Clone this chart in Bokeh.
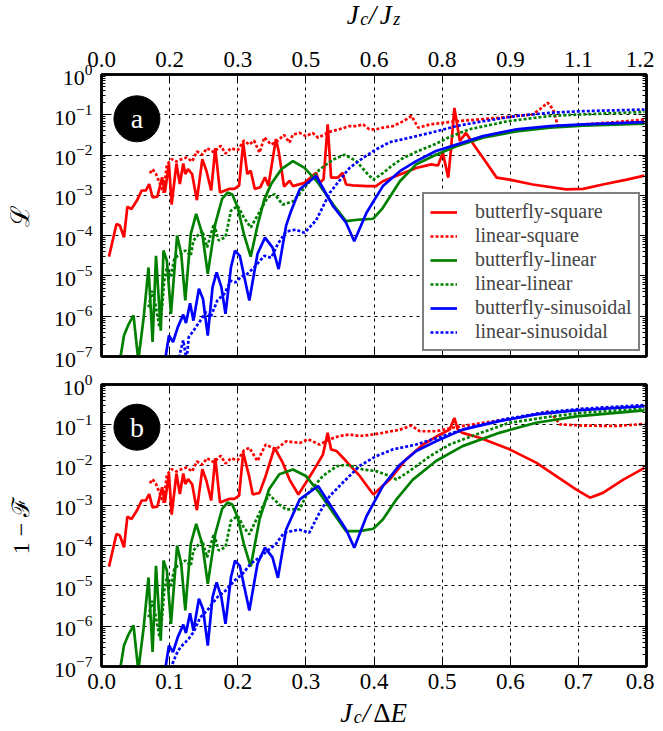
import math
from bokeh.plotting import figure
from bokeh.models import Range1d, LinearAxis, LogAxis, FixedTicker, Label, CustomJSTickFormatter
from bokeh.layouts import column
from bokeh.embed import file_html
from bokeh.resources import INLINE

# ---------------- data ----------------
x_ticks = [0.0, 0.1, 0.2, 0.3, 0.4, 0.5, 0.6, 0.7, 0.8]
x_tick_labels = ["0.0", "0.1", "0.2", "0.3", "0.4", "0.5", "0.6", "0.7", "0.8"]
top_tick_labels = ["0.0", "0.2", "0.3", "0.5", "0.6", "0.8", "0.9", "1.1", "1.2"]
y_tick_exponents = [-7, -6, -5, -4, -3, -2, -1, 0]

series_names = ["butterfly-square", "linear-square", "butterfly-linear",
                "linear-linear", "butterfly-sinusoidal", "linear-sinusoidal"]

# each entry: (J_c/ΔE, log10 of value)
butterfly_square_left = [
    (0.011, -4.52), (0.022, -3.71), (0.027, -3.75), (0.033, -4.04), (0.038, -3.28),
    (0.044, -3.34), (0.052, -3.13), (0.059, -2.88), (0.065, -2.88), (0.070, -2.72),
    (0.075, -3.05), (0.082, -3.03), (0.089, -2.55), (0.093, -2.93), (0.099, -2.22),
    (0.103, -3.23), (0.110, -2.21), (0.115, -2.72), (0.120, -2.21), (0.123, -2.47),
    (0.127, -2.35), (0.133, -2.47), (0.140, -3.12), (0.148, -2.10), (0.154, -2.39),
    (0.161, -2.88), (0.167, -1.83), (0.174, -2.93), (0.187, -2.84), (0.195, -2.84),
    (0.202, -2.76), (0.208, -1.69)]
butterfly_square_a_tail = [
    (0.214, -2.47), (0.219, -2.39), (0.225, -2.84), (0.233, -2.80), (0.240, -2.55),
    (0.245, -2.76), (0.256, -1.60), (0.260, -1.90), (0.268, -2.78), (0.276, -2.64),
    (0.281, -2.77), (0.298, -2.69), (0.315, -2.44), (0.320, -2.69), (0.326, -2.60),
    (0.332, -1.24), (0.337, -2.56), (0.347, -2.56), (0.354, -2.44), (0.359, -2.73),
    (0.369, -2.75), (0.389, -2.77), (0.403, -2.77), (0.413, -2.65), (0.438, -2.48),
    (0.462, -2.32), (0.484, -2.23), (0.494, -2.26), (0.501, -1.94), (0.509, -2.56),
    (0.513, -1.86), (0.518, -0.83), (0.526, -1.65), (0.535, -1.45), (0.548, -1.78),
    (0.565, -2.19), (0.580, -2.56), (0.599, -2.61), (0.633, -2.73), (0.682, -2.85),
    (0.707, -2.84), (0.736, -2.73), (0.771, -2.61), (0.797, -2.51)]
butterfly_square_b_tail = [
    (0.217, -2.30), (0.222, -2.73), (0.232, -2.69), (0.241, -2.27), (0.254, -1.57),
    (0.266, -1.94), (0.276, -2.36), (0.289, -2.73), (0.300, -2.44), (0.315, -2.03),
    (0.325, -1.74), (0.332, -1.20), (0.337, -1.61), (0.345, -1.65), (0.359, -1.90),
    (0.379, -2.27), (0.399, -2.73), (0.423, -2.36), (0.447, -1.86), (0.472, -1.49),
    (0.497, -1.24), (0.511, -1.12), (0.518, -0.83), (0.523, -1.12), (0.530, -1.20),
    (0.555, -1.32), (0.599, -1.61), (0.638, -1.94), (0.667, -2.27), (0.697, -2.61),
    (0.717, -2.81), (0.736, -2.69), (0.766, -2.36), (0.797, -2.07)]

linear_square_left = [
    (0.071, -2.45), (0.075, -2.35), (0.080, -2.47), (0.086, -2.72), (0.091, -2.93),
    (0.096, -2.24), (0.103, -2.10), (0.110, -2.16), (0.118, -2.10), (0.125, -2.06),
    (0.133, -2.16), (0.140, -1.91), (0.148, -1.99), (0.155, -1.83), (0.165, -1.93),
    (0.175, -1.77), (0.182, -1.96), (0.190, -1.83), (0.200, -1.88), (0.209, -1.64)]
linear_square_a_tail = [
    (0.217, -1.74), (0.224, -1.64), (0.232, -1.94), (0.239, -1.56), (0.249, -1.74),
    (0.259, -1.64), (0.268, -1.50), (0.276, -1.69), (0.281, -1.49), (0.291, -1.45),
    (0.300, -1.53), (0.310, -1.45), (0.318, -1.57), (0.327, -1.49), (0.337, -1.41),
    (0.349, -1.36), (0.364, -1.28), (0.374, -1.28), (0.384, -1.24), (0.393, -1.36),
    (0.403, -1.36), (0.413, -1.32), (0.428, -1.28), (0.443, -1.16), (0.455, -1.03),
    (0.465, -1.32), (0.482, -1.24), (0.501, -1.20), (0.521, -1.16), (0.550, -1.12),
    (0.580, -1.08), (0.609, -1.03), (0.633, -0.99), (0.643, -0.87), (0.655, -0.70),
    (0.663, -0.87), (0.670, -1.28), (0.682, -1.28), (0.707, -1.24), (0.756, -1.18),
    (0.797, -1.12)]
linear_square_b_tail = [
    (0.217, -1.57), (0.229, -1.90), (0.241, -1.49), (0.256, -1.61), (0.271, -1.41),
    (0.291, -1.45), (0.303, -1.36), (0.320, -1.49), (0.335, -1.36), (0.349, -1.28),
    (0.364, -1.24), (0.379, -1.28), (0.399, -1.24), (0.413, -1.20), (0.438, -1.12),
    (0.455, -1.02), (0.467, -1.16), (0.491, -1.16), (0.516, -1.07), (0.560, -0.95),
    (0.609, -0.83), (0.648, -0.70), (0.658, -0.66), (0.673, -0.99), (0.707, -1.02),
    (0.756, -1.03), (0.797, -0.98)]

butterfly_linear_left = [
    (0.025, -7.50), (0.028, -7.00), (0.033, -6.48), (0.039, -6.23), (0.047, -5.98),
    (0.054, -7.10), (0.062, -6.02), (0.069, -4.79), (0.075, -6.64), (0.080, -4.50),
    (0.087, -6.36), (0.091, -4.37), (0.096, -4.62), (0.102, -5.94), (0.111, -4.00),
    (0.117, -4.45), (0.123, -5.61), (0.131, -3.96), (0.139, -3.46), (0.148, -3.96),
    (0.156, -4.95), (0.167, -3.71), (0.177, -3.09), (0.185, -2.93), (0.192, -2.98),
    (0.200, -3.30), (0.209, -3.96), (0.219, -4.52)]
butterfly_linear_a_tail = [
    (0.229, -3.75), (0.239, -3.10), (0.249, -2.72), (0.264, -2.35), (0.281, -2.15),
    (0.298, -2.32), (0.318, -2.69), (0.340, -3.23), (0.359, -3.64), (0.379, -3.60),
    (0.399, -3.58), (0.413, -3.31), (0.438, -2.65), (0.462, -2.23), (0.491, -1.99),
    (0.521, -1.78), (0.560, -1.57), (0.609, -1.41), (0.658, -1.32), (0.707, -1.27),
    (0.797, -1.22)]
butterfly_linear_b_tail = [
    (0.232, -3.35), (0.246, -2.60), (0.261, -2.23), (0.281, -2.11), (0.300, -2.27),
    (0.320, -2.69), (0.340, -3.18), (0.359, -3.64), (0.379, -3.64), (0.399, -3.58),
    (0.413, -3.35), (0.433, -2.85), (0.457, -2.36), (0.491, -1.90), (0.530, -1.53),
    (0.584, -1.20), (0.638, -0.95), (0.697, -0.79), (0.797, -0.64)]

linear_linear_left = [
    (0.069, -5.78), (0.074, -5.37), (0.079, -5.69), (0.085, -6.27), (0.089, -5.78),
    (0.092, -5.12), (0.096, -4.79), (0.101, -5.03), (0.107, -4.58), (0.112, -4.50),
    (0.117, -4.45), (0.123, -4.37), (0.131, -4.50), (0.135, -4.12), (0.141, -4.00),
    (0.148, -3.88), (0.155, -4.29), (0.165, -3.71), (0.172, -4.12), (0.182, -4.04),
    (0.190, -3.38), (0.200, -3.26), (0.209, -3.55)]
linear_linear_a_tail = [
    (0.219, -3.80), (0.229, -3.50), (0.244, -3.05), (0.254, -2.97), (0.266, -3.23),
    (0.281, -3.15), (0.300, -2.77), (0.320, -2.36), (0.340, -2.11), (0.357, -1.99),
    (0.374, -2.15), (0.389, -2.44), (0.399, -2.61), (0.413, -2.45), (0.425, -2.28),
    (0.440, -2.10), (0.462, -1.92), (0.491, -1.72), (0.511, -1.55), (0.540, -1.36),
    (0.596, -1.16), (0.658, -1.03), (0.707, -0.99), (0.797, -0.93)]
linear_linear_b_tail = [
    (0.217, -3.72), (0.232, -3.18), (0.246, -2.73), (0.261, -2.98), (0.271, -3.10),
    (0.291, -3.10), (0.300, -2.77), (0.325, -2.27), (0.345, -2.03), (0.359, -1.99),
    (0.384, -2.11), (0.403, -2.15), (0.423, -2.27), (0.433, -2.36), (0.452, -2.15),
    (0.482, -1.78), (0.511, -1.49), (0.550, -1.24), (0.599, -0.95), (0.658, -0.80),
    (0.707, -0.70), (0.797, -0.60)]

butterfly_sinusoidal_left = [
    (0.092, -7.40), (0.094, -7.02), (0.099, -6.48), (0.105, -6.64), (0.112, -6.27),
    (0.120, -5.96), (0.124, -6.17), (0.130, -5.68), (0.135, -6.11), (0.143, -5.32),
    (0.149, -5.57), (0.156, -6.48), (0.163, -5.28), (0.169, -4.91), (0.176, -5.28),
    (0.182, -5.94), (0.190, -4.79), (0.196, -4.37), (0.203, -4.50), (0.217, -5.61),
    (0.229, -4.45), (0.240, -4.05), (0.251, -4.29)]
butterfly_sinusoidal_a_tail = [
    (0.260, -4.83), (0.271, -3.75), (0.278, -3.40), (0.291, -2.85), (0.315, -2.52),
    (0.340, -3.27), (0.359, -3.68), (0.371, -4.14), (0.389, -3.43), (0.413, -2.77),
    (0.438, -2.40), (0.462, -2.15), (0.491, -1.90), (0.521, -1.74), (0.560, -1.53),
    (0.609, -1.36), (0.658, -1.28), (0.707, -1.24), (0.797, -1.18)]
butterfly_sinusoidal_b_tail = [
    (0.259, -4.80), (0.271, -3.60), (0.291, -2.85), (0.318, -2.52), (0.340, -3.10),
    (0.359, -3.60), (0.371, -4.05), (0.389, -3.27), (0.413, -2.52), (0.438, -1.99),
    (0.462, -1.65), (0.491, -1.41), (0.530, -1.12), (0.584, -0.91), (0.638, -0.74),
    (0.697, -0.64), (0.797, -0.54)]

linear_sinusoidal_a = [
    (0.112, -7.40), (0.115, -6.93), (0.120, -6.60), (0.125, -7.10), (0.128, -6.52),
    (0.135, -6.36), (0.145, -6.11), (0.153, -5.90), (0.160, -6.03), (0.170, -5.61),
    (0.180, -5.45), (0.190, -5.12), (0.197, -5.16), (0.204, -5.03), (0.214, -4.95),
    (0.224, -4.79), (0.239, -4.50), (0.249, -4.55), (0.259, -4.20), (0.271, -3.90),
    (0.285, -3.85), (0.298, -3.93), (0.315, -3.62), (0.335, -2.94), (0.364, -2.32),
    (0.384, -2.07), (0.403, -1.86), (0.423, -1.68), (0.452, -1.57), (0.482, -1.45),
    (0.521, -1.28), (0.560, -1.16), (0.609, -1.03), (0.658, -0.95), (0.707, -0.91),
    (0.797, -0.87)]
linear_sinusoidal_b = [
    (0.100, -7.30), (0.103, -6.98), (0.110, -6.69), (0.116, -6.52), (0.123, -6.40),
    (0.128, -6.31), (0.135, -6.15), (0.145, -5.78), (0.155, -5.61), (0.170, -5.28),
    (0.182, -5.12), (0.195, -4.87), (0.207, -4.70), (0.219, -4.45), (0.232, -4.29),
    (0.244, -4.12), (0.256, -3.96), (0.268, -3.68), (0.290, -3.60), (0.305, -3.68),
    (0.320, -3.18), (0.335, -2.77), (0.354, -2.44), (0.379, -2.02), (0.403, -1.78),
    (0.428, -1.61), (0.462, -1.49), (0.501, -1.28), (0.540, -1.07), (0.589, -0.87),
    (0.648, -0.70), (0.707, -0.60), (0.797, -0.51)]

panel_a = {
    "butterfly-square": butterfly_square_left + butterfly_square_a_tail,
    "linear-square": linear_square_left + linear_square_a_tail,
    "butterfly-linear": butterfly_linear_left + butterfly_linear_a_tail,
    "linear-linear": linear_linear_left + linear_linear_a_tail,
    "butterfly-sinusoidal": butterfly_sinusoidal_left + butterfly_sinusoidal_a_tail,
    "linear-sinusoidal": linear_sinusoidal_a,
}
panel_b = {
    "butterfly-square": butterfly_square_left + butterfly_square_b_tail,
    "linear-square": linear_square_left + linear_square_b_tail,
    "butterfly-linear": butterfly_linear_left + butterfly_linear_b_tail,
    "linear-linear": linear_linear_left + linear_linear_b_tail,
    "butterfly-sinusoidal": butterfly_sinusoidal_left + butterfly_sinusoidal_b_tail,
    "linear-sinusoidal": linear_sinusoidal_b,
}

# ---------------- styles ----------------
colors = {"butterfly-square": "#ff0000", "linear-square": "#ff0000",
          "butterfly-linear": "#008000", "linear-linear": "#008000",
          "butterfly-sinusoidal": "#0000ff", "linear-sinusoidal": "#0000ff"}
dashes = {n: ("solid" if n.startswith("butterfly") else "3 2") for n in series_names}

SERIF = "Liberation Serif"
FRAME_W, FRAME_H = 545, 282
BORDER_L, BORDER_R = 101, 8
X_TICK_FONT = "23px"
Y_TICK_FONT = "22px"


def style_axis(ax, labels=True, standoff=8, font=X_TICK_FONT):
    ax.axis_line_color = "black"
    ax.axis_line_width = 2.5
    ax.major_tick_in = 8
    ax.major_tick_out = 0
    ax.minor_tick_in = 4
    ax.minor_tick_out = 0
    ax.major_tick_line_color = "black"
    ax.minor_tick_line_color = "black"
    ax.major_tick_line_width = 1
    ax.minor_tick_line_width = 1
    ax.major_label_text_font = SERIF
    ax.major_label_text_font_size = font
    if labels:
        ax.major_label_text_color = "black"
        ax.major_label_standoff = standoff
    else:
        ax.formatter = CustomJSTickFormatter(code="return ''")
        ax.major_label_text_color = None
        ax.major_label_standoff = 0


def y_ticker():
    return FixedTicker(ticks=[10.0 ** e for e in y_tick_exponents],
                       minor_ticks=[m * 10.0 ** e for e in y_tick_exponents[:-1] for m in range(2, 10)])


def make_panel(is_top, ylabel, ylabel_size, ylabel_standoff):
    p = figure(frame_width=FRAME_W, frame_height=FRAME_H,
               x_range=Range1d(0, 0.8), y_range=Range1d(1e-7, 1),
               y_axis_type="log", output_backend="svg", toolbar_location=None,
               min_border_left=BORDER_L, min_border_right=BORDER_R,
               min_border_top=34 if is_top else 14,
               min_border_bottom=14 if is_top else 32,
               background_fill_color="white", border_fill_color="white")
    p.outline_line_color = "black"
    p.outline_line_width = 2.5

    bx = p.xaxis[0]
    bx.ticker = FixedTicker(ticks=x_ticks)
    if not is_top:
        bx.major_label_overrides = {t: s for t, s in zip(x_ticks, x_tick_labels)}
    style_axis(bx, labels=not is_top, standoff=7)

    tx = LinearAxis(ticker=FixedTicker(ticks=x_ticks))
    if is_top:
        tx.major_label_overrides = {t: s for t, s in zip(x_ticks, top_tick_labels)}
    style_axis(tx, labels=is_top, standoff=8)
    p.add_layout(tx, "above")

    ly = p.yaxis[0]
    ly.ticker = y_ticker()
    style_axis(ly, labels=True, standoff=9, font=Y_TICK_FONT)
    ly.axis_label = ylabel
    ly.axis_label_text_font = SERIF
    ly.axis_label_text_font_style = "normal"
    ly.axis_label_text_font_size = ylabel_size
    ly.axis_label_text_color = "black"
    ly.axis_label_standoff = ylabel_standoff

    ry = LogAxis(ticker=y_ticker())
    style_axis(ry, labels=False, font=Y_TICK_FONT)
    p.add_layout(ry, "right")

    for g in (p.xgrid, p.ygrid):
        g.grid_line_color = "black"
        g.grid_line_width = 1
        g.grid_line_dash = "3 4"
    p.ygrid.ticker = y_ticker()
    p.xgrid.ticker = FixedTicker(ticks=x_ticks)

    data = panel_a if is_top else panel_b
    for name in series_names:
        xs = [pt[0] for pt in data[name]]
        ys = [10.0 ** pt[1] for pt in data[name]]
        kw = dict(line_color=colors[name], line_width=2.7, line_dash=dashes[name])
        if is_top:
            kw["legend_label"] = name
        p.line(xs, ys, **kw)
    return p


def title_fig(height, pieces, cx, base_y):
    f = figure(frame_width=FRAME_W, frame_height=height, x_range=Range1d(0, 1),
               y_range=Range1d(0, 1), output_backend="svg", toolbar_location=None,
               min_border_left=BORDER_L, min_border_right=BORDER_R,
               min_border_top=0, min_border_bottom=0,
               x_axis_location=None, y_axis_location=None,
               background_fill_color="white", border_fill_color="white")
    f.outline_line_color = None
    f.grid.visible = False
    total = sum(size * w for _, size, _, w, _ in pieces)
    x = cx - total / 2.0
    for text, size, dy, w, style in pieces:
        f.add_layout(Label(x=x, y=base_y + dy, x_units="screen", y_units="screen",
                           text=text, text_font=SERIF, text_font_style=style,
                           text_font_size=f"{size}px", text_color="black",
                           text_align="left", text_baseline="alphabetic"))
        x += size * w
    return f


top = make_panel(True, "ℒ", "26px", 16)
bottom = make_panel(False, "1 − ℱ", "24px", 17)

# legend
lg = top.legend[0]
lg.location = (321, 5)
lg.border_line_color = "black"
lg.border_line_width = 2
lg.background_fill_color = "white"
lg.background_fill_alpha = 1.0
lg.label_text_font = SERIF
lg.label_text_font_size = "20px"
lg.glyph_width = 27
lg.glyph_height = 20
lg.label_height = 20
lg.label_standoff = 18
lg.spacing = 1
lg.padding = 6
lg.margin = 0

# panel badges
for p, letter, ly in ((top, "a", -1.10), (bottom, "b", -1.06)):
    p.scatter([0.052], [10.0 ** ly], marker="circle", size=46, fill_color="black", line_color="black")
    p.add_layout(Label(x=0.052, y=10.0 ** ly, text=letter, text_color="white",
                       text_font=SERIF, text_font_size="28px",
                       text_align="center", text_baseline="middle"))

CX = FRAME_W / 2.0
top_title = title_fig(40, [("J", 27, 0, 0.50, "italic"), ("c", 18, -4, 0.48, "italic"),
                           ("/", 27, 0, 0.40, "italic"), ("J", 27, 0, 0.50, "italic"),
                           ("z", 18, -4, 0.45, "italic")], CX, 26)
bottom_title = title_fig(28, [("J", 27, 0, 0.50, "italic"), ("c", 18, -4, 0.48, "italic"),
                              ("/", 27, 0, 0.40, "italic"), ("Δ", 27, 0, 0.64, "normal"),
                              ("E", 27, 0, 0.64, "italic")], CX, 14)

layout = column(top_title, top, bottom, bottom_title, spacing=0)
open("out.html", "w").write(file_html(layout, INLINE))
